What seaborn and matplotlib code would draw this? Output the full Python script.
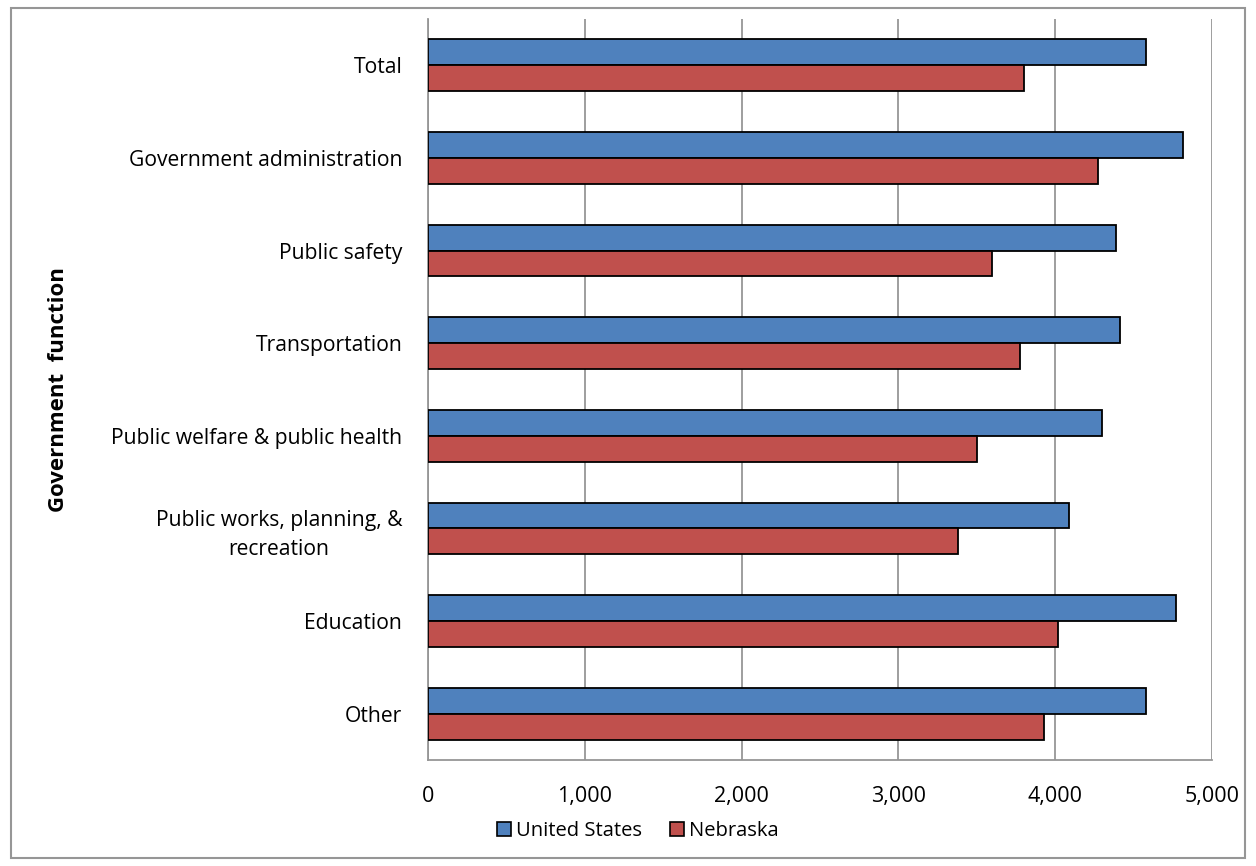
import pandas as pd
import matplotlib.pyplot as plt
import seaborn as sns
from matplotlib.patches import Rectangle
from matplotlib.ticker import FuncFormatter, FixedLocator

# --- Data ---
categories = [
    'Total',
    'Government administration',
    'Public safety',
    'Transportation',
    'Public welfare & public health',
    'Public works, planning, &\nrecreation',
    'Education',
    'Other',
]
us_values = [4581, 4814, 4389, 4412, 4300, 4091, 4772, 4581]
ne_values = [3802, 4276, 3595, 3774, 3504, 3377, 4021, 3930]
series_names = ['United States', 'Nebraska']

df = pd.DataFrame({
    'Function': categories * 2,
    'Value': us_values + ne_values,
    'Area': [series_names[0]] * len(categories) + [series_names[1]] * len(categories),
})

blue = '#4F81BD'
red = '#C0504D'
grid_gray = '#969696'

sns.set_style('white')
plt.rcParams['font.family'] = ['Open Sans', 'DejaVu Sans']
plt.rcParams['text.color'] = 'black'
plt.rcParams['xtick.labelcolor'] = 'black'
plt.rcParams['ytick.labelcolor'] = 'black'
plt.rcParams['axes.labelcolor'] = 'black'

fig = plt.figure(figsize=(12.56, 8.66), dpi=100)
ax = fig.add_axes([428 / 1256, 1 - 760 / 866, (1212 - 428) / 1256, (760 - 19) / 866])

sns.barplot(
    data=df, y='Function', x='Value', hue='Area', orient='h',
    palette=[blue, red], order=categories, hue_order=series_names,
    width=0.56, edgecolor='black', linewidth=1.3, errorbar=None,
    saturation=1, legend=False, ax=ax, zorder=3,
)

ax.set_xlim(0, 5000)
ax.set_ylim(len(categories) - 0.5, -0.5)
ax.set_xticks(range(0, 5001, 1000))
ax.xaxis.set_major_formatter(FuncFormatter(lambda v, p: f'{int(v):,}'))
ax.grid(axis='x', color=grid_gray, linewidth=1.3, zorder=0)
ax.set_axisbelow(True)

# y ticks: labels at category centres, tick marks at category boundaries
ax.yaxis.set_minor_locator(FixedLocator([i - 0.5 for i in range(len(categories) + 1)]))
ax.tick_params(axis='y', which='major', length=0, pad=18.5, labelsize=15.2)
ax.tick_params(axis='y', which='minor', length=7, width=1.3, color=grid_gray, direction='out')
ax.tick_params(axis='x', which='major', length=7, width=1.3, color=grid_gray,
               direction='out', labelsize=15.5, pad=12)
for lab in ax.get_yticklabels():
    lab.set_multialignment('center')
    lab.set_linespacing(1.5)

for side in ['top', 'right']:
    ax.spines[side].set_visible(False)
for side in ['left', 'bottom']:
    ax.spines[side].set_color(grid_gray)
    ax.spines[side].set_linewidth(1.3)

ax.set_xlabel('')
ax.set_ylabel('Government  function', fontsize=16, fontweight='bold')
ax.yaxis.set_label_coords((69 - 428) / 784, 0.5)

# legend under the axis
handles = [Rectangle((0, 0), 1, 1, facecolor=c, edgecolor='black', linewidth=1.2) for c in (blue, red)]
fig.legend(handles, series_names, loc='center', ncol=2,
           bbox_to_anchor=(638 / 1256, 1 - 831 / 866), frameon=False,
           fontsize=14.5, handlelength=0.7, handleheight=0.7,
           handletextpad=0.25, columnspacing=1.4)

# outer chart border
fig.patches.append(Rectangle((11 / 1256, 8 / 866), 1 - 22 / 1256, 1 - 16 / 866,
                             transform=fig.transFigure, fill=False,
                             edgecolor=grid_gray, linewidth=1.5))

fig.savefig('out.png', dpi=100)
